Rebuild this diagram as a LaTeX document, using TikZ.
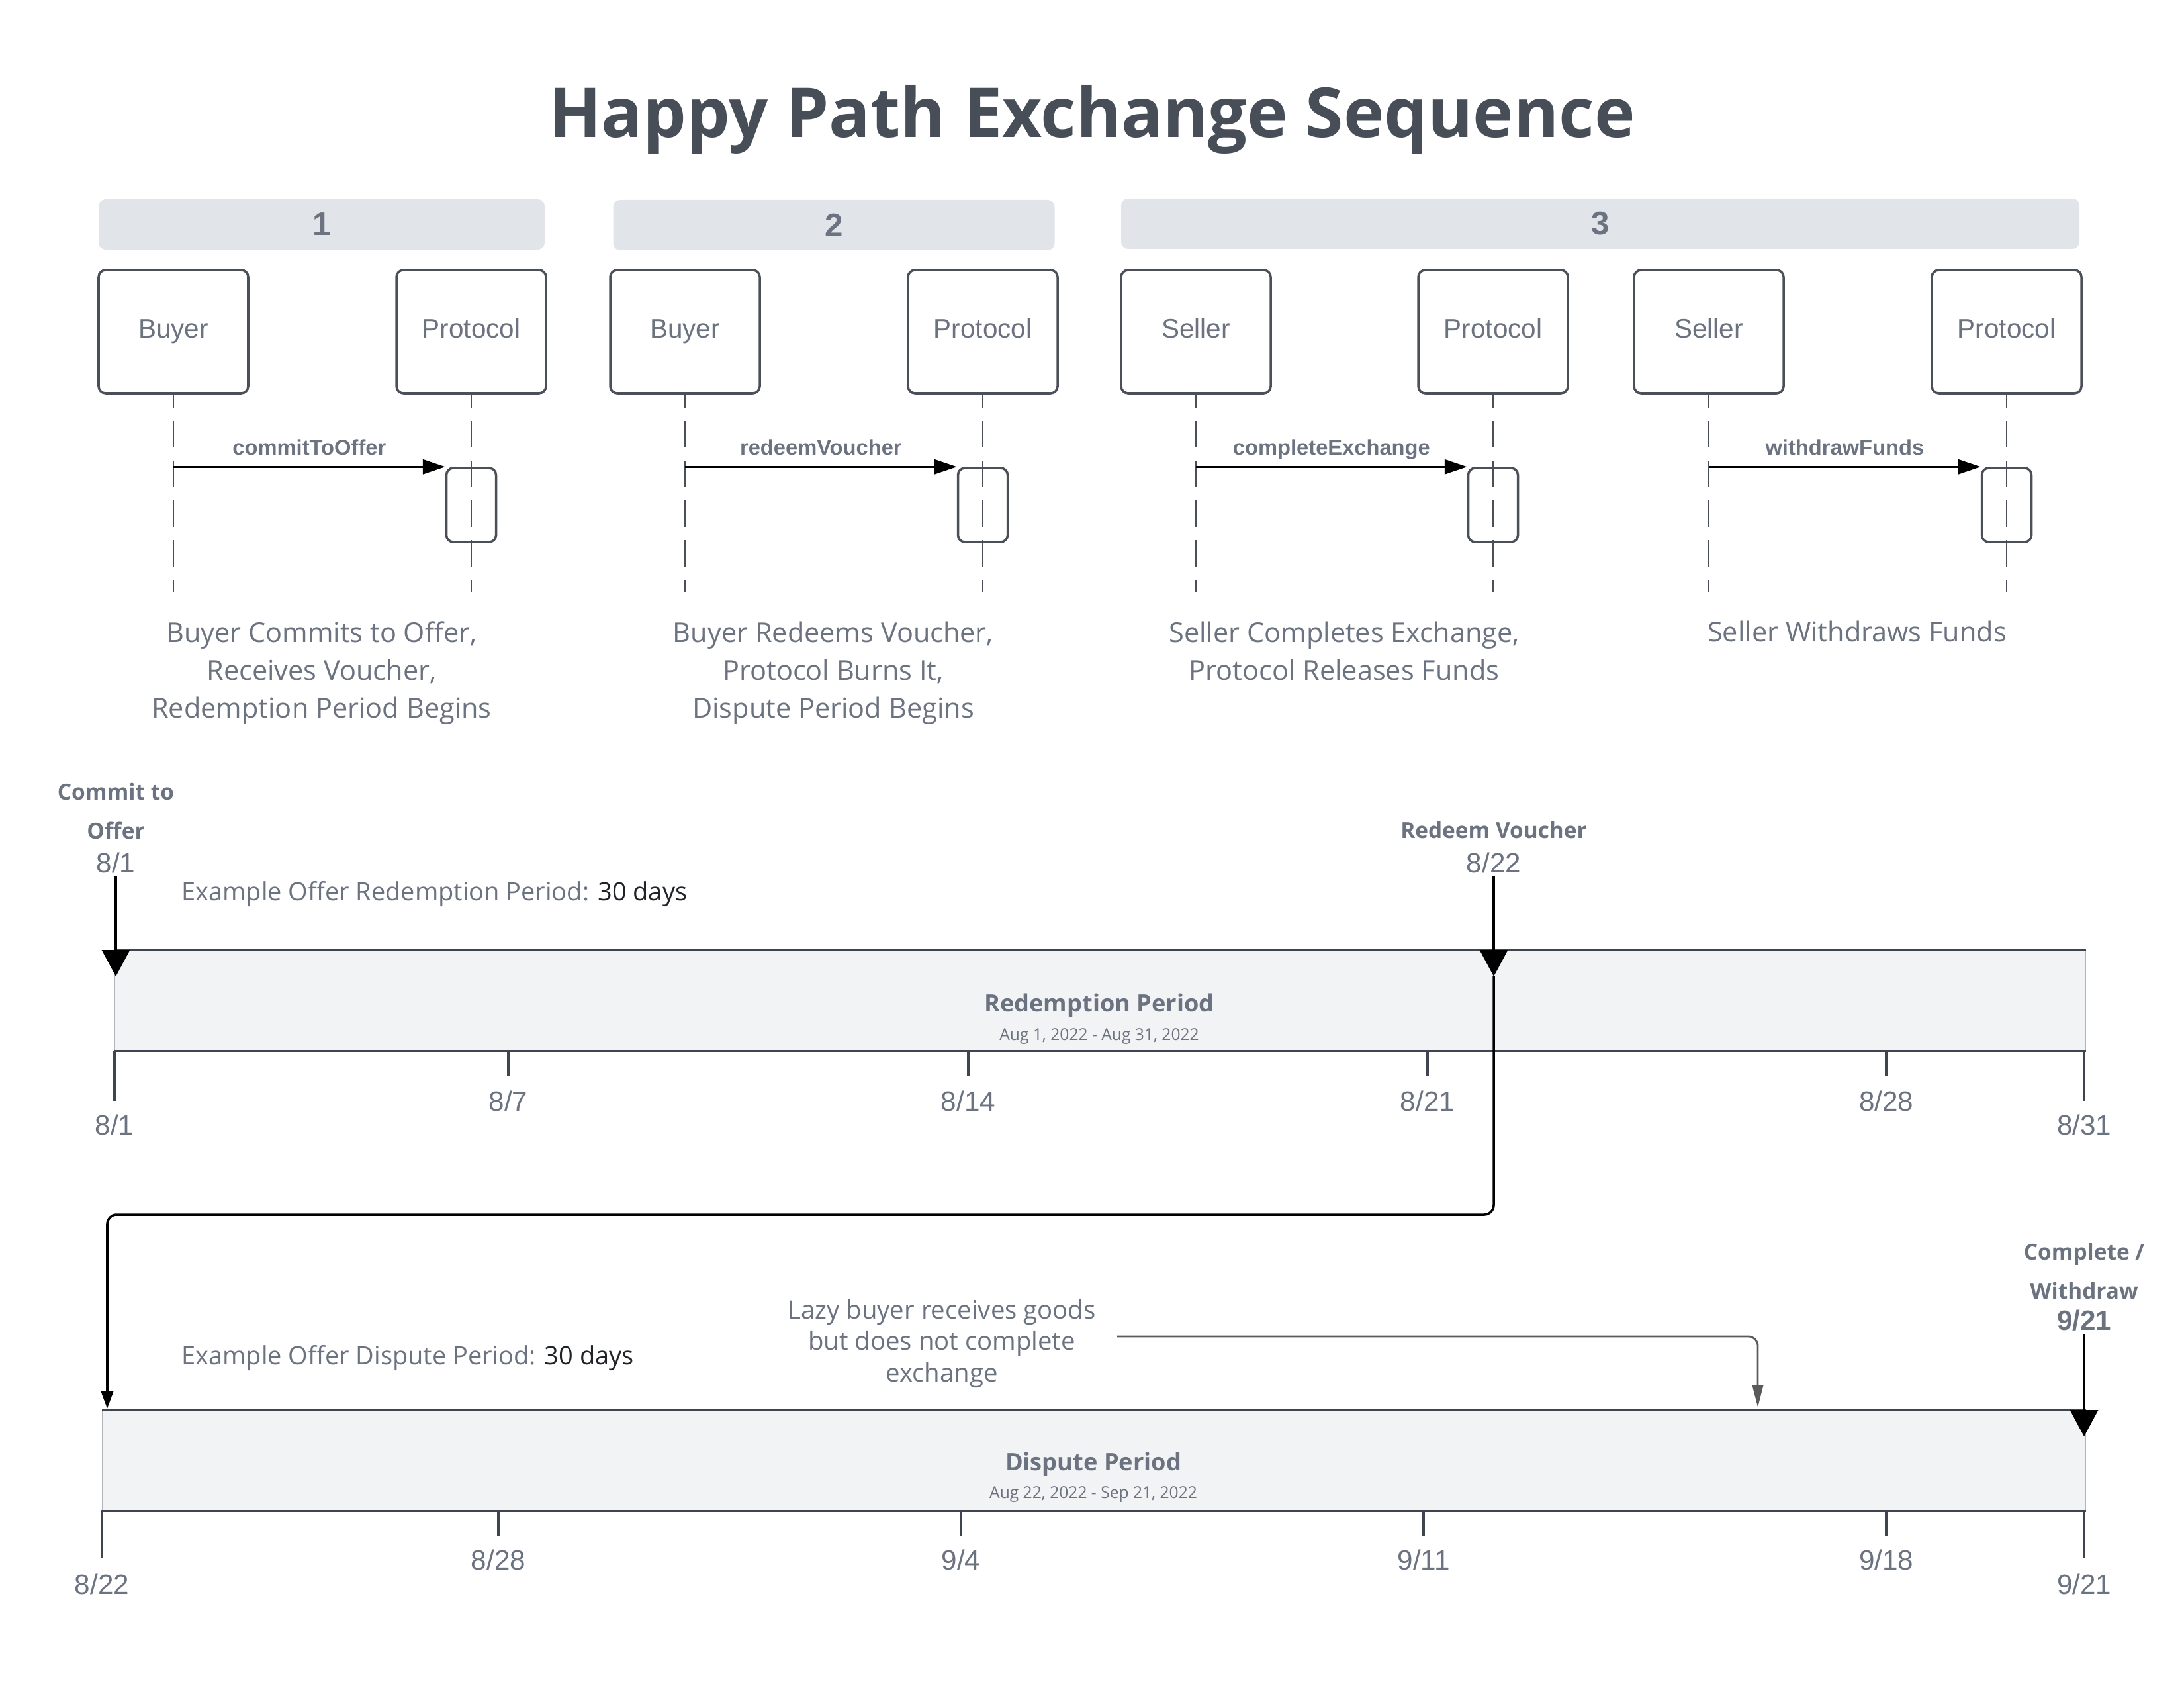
\documentclass[tikz,border=0pt]{standalone}
\usepackage{fontspec}
\setmainfont{Open Sans}
\newfontfamily\arialfont{Liberation Sans}
\usepackage{tikz}
\usetikzlibrary{shapes, arrows.meta, positioning, calc}

\definecolor{titlegray}{HTML}{474E58}
\definecolor{textgray}{HTML}{6B7280}
\definecolor{darktext}{HTML}{1F2328}
\definecolor{boxgray}{HTML}{4B5058}
\definecolor{headfill}{HTML}{E1E4E8}
\definecolor{barfill}{HTML}{F2F3F5}
\definecolor{barline}{HTML}{3E4550}
\definecolor{notegray}{HTML}{5A5A5A}

\begin{document}
\begin{tikzpicture}[
    header/.style={fill=headfill, rounded corners=3pt, minimum height=0.76cm, text=textgray, font=\arialfont\bfseries\fontsize{14}{16}\selectfont},
    actor/.style={draw=boxgray, line width=1pt, rounded corners=3pt, minimum width=2.26cm, minimum height=1.86cm, text height=0.75em, text depth=0.2em, text=textgray, font=\arialfont\fontsize{11.5}{13}\selectfont},
    activation/.style={draw=boxgray, line width=1pt, rounded corners=3pt, minimum width=0.75cm, minimum height=1.12cm},
    lifeline/.style={draw=boxgray, line width=0.8pt, dash pattern=on 0.4cm off 0.2cm, dash phase=0.2cm},
    msg/.style={-{Triangle[length=0.34cm, width=0.22cm]}, line width=0.9pt},
    msglabel/.style={text height=0.75em, text depth=0.2em, text=textgray, font=\arialfont\bfseries\fontsize{9.3}{11}\selectfont},
    desc/.style={align=center, text=textgray, font=\fontsize{11.8}{16.2}\selectfont},
    period/.style={draw=barline!40, line width=0.4pt, fill=barfill, minimum height=1.52cm},
    periodtitle/.style={text=textgray, font=\bfseries\fontsize{10.3}{12}\selectfont},
    periodsub/.style={text=textgray, font=\fontsize{7}{8}\selectfont},
    baredge/.style={draw=barline, line width=0.9pt},
    tick/.style={draw=barline, line width=0.9pt},
    datelabel/.style={text=textgray, font=\arialfont\fontsize{12}{14}\selectfont},
    milestone/.style={align=center, text=textgray, font=\bfseries\fontsize{9.5}{16.8}\selectfont},
    event/.style={-{Triangle[length=0.4cm, width=0.42cm]}, line width=1pt},
    link/.style={-{Triangle[length=0.26cm, width=0.18cm]}, line width=1pt, rounded corners=4pt},
    note/.style={-{Triangle[length=0.33cm, width=0.16cm]}, draw=notegray, line width=0.8pt, rounded corners=4pt},
    periodnote/.style={anchor=west, text=textgray, font=\fontsize{10.8}{13}\selectfont}
]

        \useasboundingbox (0,0) rectangle (33,-25.5);

        % Title
        \node[text=titlegray, font=\bfseries\fontsize{29.6}{34}\selectfont] (title) at (16.50,-1.80) {Happy Path Exchange Sequence};

        % ------------------ Sequence Steps ------------------

        % Step headers
        \node[header, minimum width=6.74cm] (step1) at (4.86,-3.39) {1};
        \node[header, minimum width=6.67cm] (step2) at (12.60,-3.40) {2};
        \node[header, minimum width=14.48cm] (step3) at (24.18,-3.38) {3};

        % Participants
        \node[actor] (buyer1) at (2.62,-5.01) {Buyer};
        \node[actor] (proto1) at (7.12,-5.01) {Protocol};
        \node[actor] (buyer2) at (10.35,-5.01) {Buyer};
        \node[actor] (proto2) at (14.85,-5.01) {Protocol};
        \node[actor] (seller3) at (18.07,-5.01) {Seller};
        \node[actor] (proto3) at (22.56,-5.01) {Protocol};
        \node[actor] (seller4) at (25.82,-5.01) {Seller};
        \node[actor] (proto4) at (30.32,-5.01) {Protocol};

        % Lifelines
        \draw[lifeline] (buyer1.south) -- (buyer1.south |- 0,-8.95);
        \draw[lifeline] (proto1.south) -- (proto1.south |- 0,-8.95);
        \draw[lifeline] (buyer2.south) -- (buyer2.south |- 0,-8.95);
        \draw[lifeline] (proto2.south) -- (proto2.south |- 0,-8.95);
        \draw[lifeline] (seller3.south) -- (seller3.south |- 0,-8.95);
        \draw[lifeline] (proto3.south) -- (proto3.south |- 0,-8.95);
        \draw[lifeline] (seller4.south) -- (seller4.south |- 0,-8.95);
        \draw[lifeline] (proto4.south) -- (proto4.south |- 0,-8.95);

        % Activations
        \node[activation] (act1) at (7.12,-7.63) {};
        \node[activation] (act2) at (14.85,-7.63) {};
        \node[activation] (act3) at (22.56,-7.63) {};
        \node[activation] (act4) at (30.32,-7.63) {};

        % Calls
        \draw[msg] (buyer1.south |- act1.north) -- node[msglabel, above=-0.8pt] (call1) {commitToOffer} (act1.north west);
        \draw[msg] (buyer2.south |- act2.north) -- node[msglabel, above=-0.8pt] (call2) {redeemVoucher} (act2.north west);
        \draw[msg] (seller3.south |- act3.north) -- node[msglabel, above=-0.8pt] (call3) {completeExchange} (act3.north west);
        \draw[msg] (seller4.south |- act4.north) -- node[msglabel, above=-0.8pt] (call4) {withdrawFunds} (act4.north west);

        % Descriptions
        \node[desc] (desc1) at (4.86,-10.17) {Buyer Commits to Offer,\\Receives Voucher,\\Redemption Period Begins};
        \node[desc] (desc2) at (12.59,-10.17) {Buyer Redeems Voucher,\\Protocol Burns It,\\Dispute Period Begins};
        \node[desc] (desc3) at (20.31,-9.83) {Seller Completes Exchange,\\Protocol Releases Funds};
        \node[desc] (desc4) at (28.06,-9.54) {Seller Withdraws Funds};

        % ------------------ Redemption Timeline ------------------

        % Period bar
        \node[period, minimum width=29.78cm] (redeem) at (16.62,-15.11) {};
        \draw[baredge] (redeem.north west) -- (redeem.north east);
        \draw[baredge] (redeem.south west) -- (redeem.south east);
        \node[periodtitle] (redeemtitle) at (16.61,-15.19) {Redemption Period};
        \node[periodsub] (redeemdates) at (16.61,-15.66) {Aug 1, 2022 - Aug 31, 2022};

        \node[periodnote] (redeemnote) at (2.62,-13.51) {Example Offer Redemption Period: \textcolor{darktext}{30 days}};

        % Ticks
        \draw[tick] (1.73,-15.87) -- (1.73,-16.63);
        \draw[tick] (7.68,-15.87) -- (7.68,-16.25);
        \draw[tick] (14.63,-15.87) -- (14.63,-16.25);
        \draw[tick] (21.57,-15.87) -- (21.57,-16.25);
        \draw[tick] (28.50,-15.87) -- (28.50,-16.25);
        \draw[tick] (31.49,-15.87) -- (31.49,-16.63);

        \node[datelabel] (aug1) at (1.73,-16.99) {8/1};
        \node[datelabel] (aug7) at (7.68,-16.63) {8/7};
        \node[datelabel] (aug14) at (14.63,-16.63) {8/14};
        \node[datelabel] (aug21) at (21.57,-16.63) {8/21};
        \node[datelabel] (aug28) at (28.50,-16.63) {8/28};
        \node[datelabel] (aug31) at (31.49,-16.99) {8/31};

        % Commit event
        \node[milestone] (commit) at (1.75,-12.25) {Commit to\\Offer};
        \node[datelabel, inner sep=1pt] (commitdate) at (1.75,-13.03) {8/1};
        \coordinate (committip) at (1.75,-14.75);
        \draw[event] (commitdate) -- (committip);

        % Redeem event
        \node[milestone] (redeemev) at (22.57,-12.54) {Redeem Voucher};
        \node[datelabel, inner sep=1pt] (redeemdate) at (22.57,-13.03) {8/22};
        \coordinate (redeemtip) at (22.57,-14.75);
        \draw[event] (redeemdate) -- (redeemtip);

        % Hand over to dispute period
        \coordinate (turn1) at (22.57,-18.35);
        \coordinate (turn2) at (1.62,-18.35);
        \coordinate (disputestart) at (1.62,-21.28);
        \draw[link] (redeemtip) -- (turn1) -- (turn2) -- (disputestart);

        % ------------------ Dispute Timeline ------------------

        % Period bar
        \node[period, minimum width=29.97cm] (dispute) at (16.53,-22.06) {};
        \draw[baredge] (dispute.north west) -- (dispute.north east);
        \draw[baredge] (dispute.south west) -- (dispute.south east);
        \node[periodtitle] (disputetitle) at (16.52,-22.12) {Dispute Period};
        \node[periodsub] (disputedates) at (16.52,-22.58) {Aug 22, 2022 - Sep 21, 2022};

        \node[periodnote] (disputenote) at (2.62,-20.52) {Example Offer Dispute Period: \textcolor{darktext}{30 days}};

        % Ticks
        \draw[tick] (1.54,-22.81) -- (1.54,-23.53);
        \draw[tick] (7.53,-22.81) -- (7.53,-23.20);
        \draw[tick] (14.52,-22.81) -- (14.52,-23.20);
        \draw[tick] (21.51,-22.81) -- (21.51,-23.20);
        \draw[tick] (28.50,-22.81) -- (28.50,-23.20);
        \draw[tick] (31.49,-22.81) -- (31.49,-23.53);

        \node[datelabel] (aug22) at (1.54,-23.93) {8/22};
        \node[datelabel] (aug28b) at (7.53,-23.56) {8/28};
        \node[datelabel] (sep4) at (14.52,-23.56) {9/4};
        \node[datelabel] (sep11) at (21.51,-23.56) {9/11};
        \node[datelabel] (sep18) at (28.50,-23.56) {9/18};
        \node[datelabel] (sep21) at (31.49,-23.93) {9/21};

        % Lazy buyer
        \node[align=center, text=textgray, font=\fontsize{10.9}{13.4}\selectfont] (lazy) at (14.23,-20.30) {Lazy buyer receives goods\\but does not complete\\exchange};
        \coordinate (lazytip) at (26.56,-21.26);
        \draw[note] ([xshift=0.2cm, yshift=0.11cm]lazy.east) -| (lazytip);

        % Complete event
        \node[milestone] (complete) at (31.49,-19.20) {Complete /\\Withdraw};
        \node[datelabel, inner sep=1pt, font=\arialfont\bfseries\fontsize{12}{14}\selectfont] (completedate) at (31.49,-19.95) {9/21};
        \coordinate (completetip) at (31.49,-21.70);
        \draw[event] (completedate) -- (completetip);

    \end{tikzpicture}
\end{document}
